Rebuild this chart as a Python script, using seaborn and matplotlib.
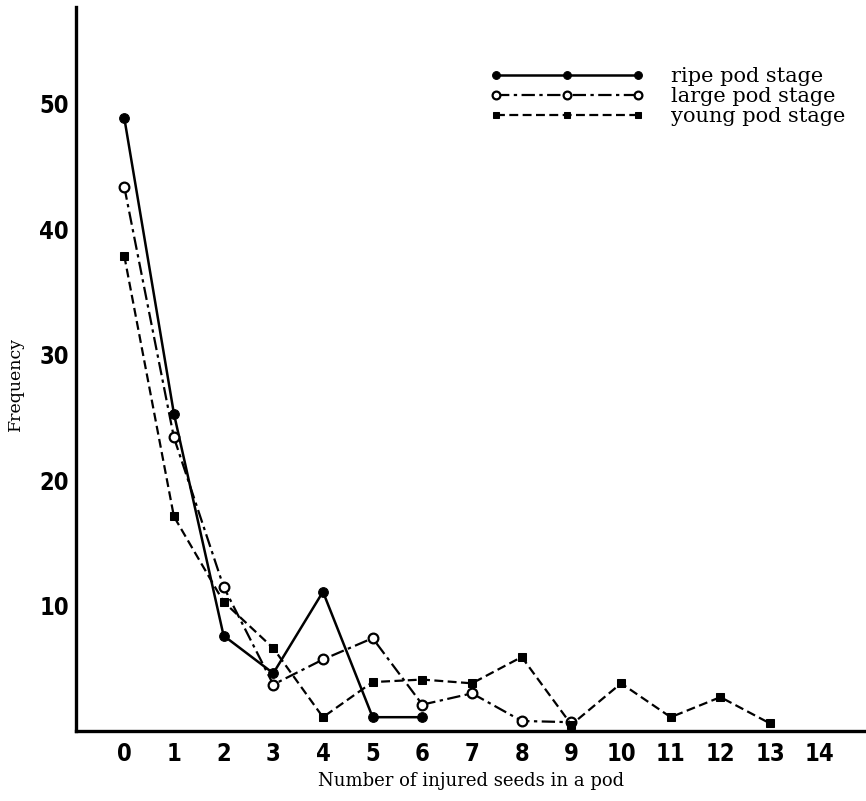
import pandas as pd
import matplotlib
matplotlib.use('Agg')
import matplotlib.pyplot as plt
import seaborn as sns

# dados
RIPE_X = [0, 1, 2, 3, 4, 5, 6]
RIPE_Y = [48.9, 25.3, 7.6, 4.6, 11.1, 1.1, 1.1]
LARGE_X = [0, 1, 2, 3, 4, 5, 6, 7, 8, 9]
LARGE_Y = [43.4, 23.4, 11.5, 3.7, 5.7, 7.4, 2.1, 3.0, 0.8, 0.7]
YOUNG_X = [0, 1, 2, 3, 4, 5, 6, 7, 8, 9, 10, 11, 12, 13]
YOUNG_Y = [37.9, 17.1, 10.3, 6.6, 1.1, 3.9, 4.1, 3.8, 5.9, 0.5, 3.8, 1.1, 2.7, 0.6]
X_TICKS = list(range(0, 15))
Y_TICKS = [10, 20, 30, 40, 50]
LABELS = ['ripe pod stage', 'large pod stage', 'young pod stage']

sns.set_style('white')
plt.rcParams['text.color'] = 'black'
plt.rcParams['axes.labelcolor'] = 'black'
SERIF = ['DejaVu Serif']
NARROW = ['Liberation Sans Narrow', 'DejaVu Sans']

fig = plt.figure(figsize=(8.66, 8.01), dpi=100)
ax = fig.add_axes([0.0878, 0.0874, 0.9122, 0.9036])

ripe = pd.DataFrame({'x': RIPE_X, 'y': RIPE_Y})
large = pd.DataFrame({'x': LARGE_X, 'y': LARGE_Y})
young = pd.DataFrame({'x': YOUNG_X, 'y': YOUNG_Y})

sns.lineplot(data=ripe, x='x', y='y', ax=ax, color='black', linewidth=1.8,
             linestyle='-', marker='o', markersize=7, markerfacecolor='black',
             markeredgecolor='black', label=LABELS[0])
sns.lineplot(data=large, x='x', y='y', ax=ax, color='black', linewidth=1.6,
             linestyle=(0, (6, 2, 1.5, 2)), marker='o', markersize=7,
             markerfacecolor='white', markeredgecolor='black', markeredgewidth=1.6,
             label=LABELS[1])
sns.lineplot(data=young, x='x', y='y', ax=ax, color='black', linewidth=1.6,
             linestyle=(0, (4, 2)), marker='s', markersize=5.5, markerfacecolor='black',
             markeredgecolor='black', label=LABELS[2])

ax.set_xlim(-0.97, 14.93)
ax.set_ylim(0, 57.7)
ax.set_xticks(X_TICKS)
ax.set_yticks(Y_TICKS)
ax.set_xticklabels([str(t) for t in X_TICKS], family=NARROW, fontweight='bold',
                   fontstretch='condensed', fontsize=17, color='black')
ax.set_yticklabels([str(t) for t in Y_TICKS], family=NARROW, fontweight='bold',
                   fontstretch='condensed', fontsize=17, color='black')
ax.tick_params(axis='x', direction='in', length=5, width=1.5, color='black', pad=8)
ax.tick_params(axis='y', direction='in', length=8, width=1.5, color='black', pad=5)

ax.spines['top'].set_visible(False)
ax.spines['right'].set_visible(False)
for s in ['left', 'bottom']:
    ax.spines[s].set_color('black')
    ax.spines[s].set_linewidth(2.4)

ax.set_xlabel('Number of injured seeds in a pod', family=SERIF, fontsize=13)
ax.xaxis.set_label_coords(0.5, -0.056)
ax.set_ylabel('Frequency', family=SERIF, fontsize=12.5)
ax.yaxis.set_label_coords(-0.066, 0.48)

leg = ax.legend(loc='upper left', bbox_to_anchor=(0.5, 0.943), frameon=False,
                numpoints=3, handlelength=7.4, handletextpad=1.3, labelspacing=0.05,
                markerscale=0.8, prop={'family': SERIF, 'size': 15})

fig.savefig('out.png', dpi=100)
